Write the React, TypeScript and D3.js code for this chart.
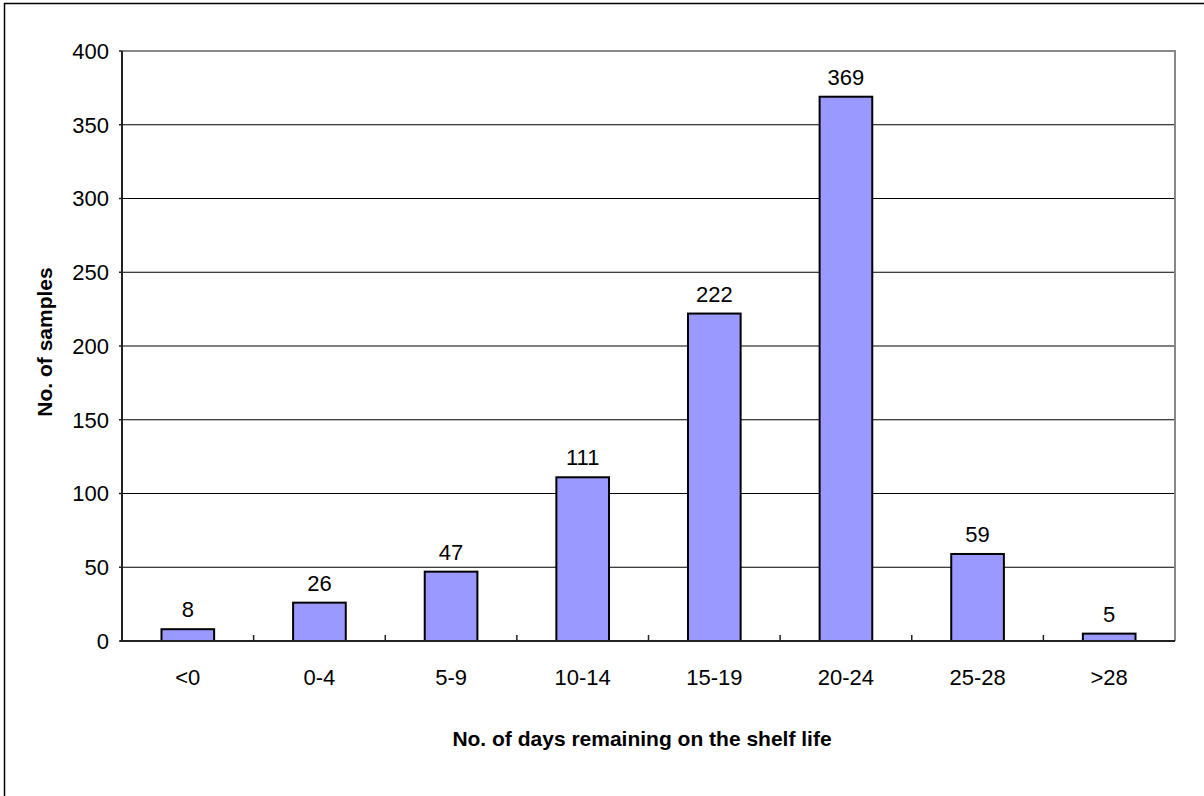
import React from "react";
import * as d3 from "d3";

// Distribution of samples by remaining shelf-life days
const categories: string[] = ["<0", "0-4", "5-9", "10-14", "15-19", "20-24", "25-28", ">28"];
const sampleCounts: number[] = [8, 26, 47, 111, 222, 369, 59, 5];
const yTicks: number[] = [0, 50, 100, 150, 200, 250, 300, 350, 400];

const xTitle = "No. of days remaining on the shelf life";
const yTitle = "No. of samples";

const W = 1204;
const H = 796;
const plot = { left: 122, right: 1175, top: 51, bottom: 641 };
const FONT = "Arial, 'Liberation Sans', Helvetica, sans-serif";
const LABEL_SIZE = 22;
const TITLE_SIZE = 21;

export default function App() {
  const x = d3
    .scaleBand<string>()
    .domain(categories)
    .range([plot.left, plot.right])
    .paddingInner(0)
    .paddingOuter(0);
  const y = d3.scaleLinear().domain([0, 400]).range([plot.bottom, plot.top]);

  const bw = x.bandwidth();
  const barW = bw / 2.5; // 150% gap between bars
  const boundaries = d3.range(1, categories.length).map((i) => plot.left + i * bw);

  return (
    <svg
      width={W}
      height={H}
      style={{ position: "absolute", left: 0, top: 0, background: "#fff" }}
      fontFamily={FONT}
    >
      {/* chart frame */}
      <rect x={4.5} y={3.5} width={W + 20} height={H + 20} fill="#fff" stroke="#000" strokeWidth={1.5} />

      {/* horizontal gridlines */}
      {yTicks.slice(1).map((t) => (
        <line key={"g" + t} x1={plot.left} x2={plot.right} y1={y(t)} y2={y(t)} stroke="#000" strokeWidth={1} />
      ))}

      {/* plot area border (top/right) */}
      <path
        d={`M${plot.left},${plot.top}H${plot.right}V${plot.bottom}`}
        fill="none"
        stroke="#888"
        strokeWidth={2}
      />

      {/* bars */}
      {categories.map((c, i) => {
        const cx = (x(c) as number) + bw / 2;
        const v = sampleCounts[i];
        return (
          <g key={c}>
            <rect
              x={cx - barW / 2}
              y={y(v)}
              width={barW}
              height={y(0) - y(v)}
              fill="#9999FF"
              stroke="#000"
              strokeWidth={2}
            />
            <text x={cx} y={y(v) - 12} textAnchor="middle" fontSize={LABEL_SIZE} fill="#000">
              {v}
            </text>
            <text x={cx} y={685} textAnchor="middle" fontSize={LABEL_SIZE} fill="#000">
              {c}
            </text>
          </g>
        );
      })}

      {/* axes */}
      <line x1={plot.left} x2={plot.left} y1={plot.top} y2={plot.bottom} stroke="#222" strokeWidth={2} />
      <line x1={plot.left - 2} x2={plot.right} y1={plot.bottom} y2={plot.bottom} stroke="#222" strokeWidth={2} />
      {boundaries.map((bx, i) => (
        <line key={"xt" + i} x1={bx} x2={bx} y1={plot.bottom} y2={plot.bottom - 6} stroke="#222" strokeWidth={1.5} />
      ))}
      {yTicks.map((t) => (
        <g key={"yt" + t}>
          <line x1={plot.left - 3} x2={plot.left} y1={y(t)} y2={y(t)} stroke="#222" strokeWidth={1.5} />
          <text x={109} y={y(t)} dy="0.36em" textAnchor="end" fontSize={LABEL_SIZE} fill="#000">
            {t}
          </text>
        </g>
      ))}

      {/* axis titles */}
      <text x={642} y={746} textAnchor="middle" fontSize={TITLE_SIZE} fontWeight="bold" fill="#000">
        {xTitle}
      </text>
      <text
        transform={`translate(52,342) rotate(-90)`}
        textAnchor="middle"
        fontSize={TITLE_SIZE}
        fontWeight="bold"
        fill="#000"
      >
        {yTitle}
      </text>
    </svg>
  );
}
